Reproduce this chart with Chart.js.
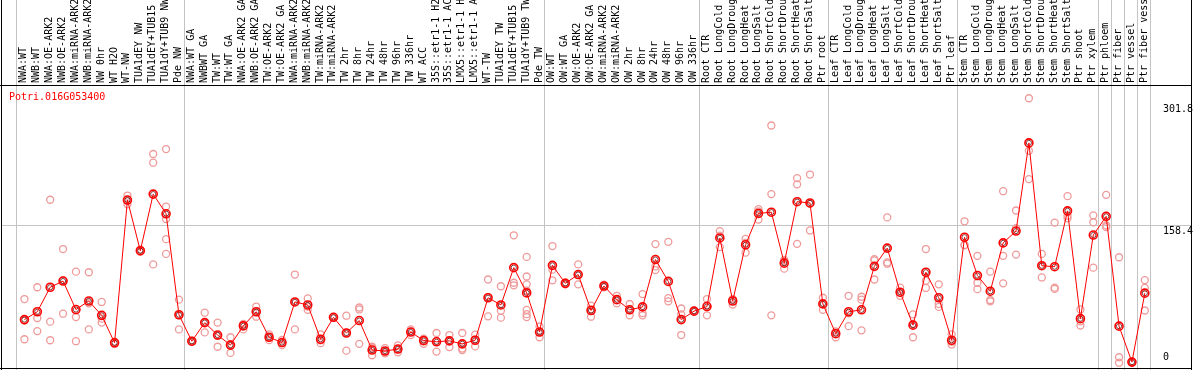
<!DOCTYPE html>
<html>
<head>
<meta charset="utf-8">
<script src="https://cdn.jsdelivr.net/npm/chart.js@4/dist/chart.umd.min.js"></script>
<style>
  html, body { margin: 0; padding: 0; background: #fff; }
  #wrap { width: 1194px; height: 370px; }
</style>
</head>
<body>
<div id="wrap"><canvas id="chart" width="1194" height="370"></canvas></div>
<script>
// Sample names (cut to 14 characters, as in the picture)
const categories = [
  'NWA:WT', 'NWB:WT', 'NWA:OE-ARK2', 'NWB:OE-ARK2', 'NWA:miRNA-ARK2', 'NWB:miRNA-ARK2',
  'NW 0hr', 'WT H2O', 'WT-NW', 'TUA1dEY NW', 'TUA1dEY+TUB15', 'TUA1dY+TUB9 NW', 'Pde NW',
  'NWA:WT GA', 'NWBWT GA', 'TW:WT', 'TW:WT GA', 'NWA:OE-ARK2 GA', 'NWB:OE-ARK2 GA',
  'TW:OE-ARK2', 'TW:OE-ARK2 GA', 'NWA:miRNA-ARK2', 'NWB:miRNA-ARK2', 'TW:miRNA-ARK2',
  'TW:miRNA-ARK2', 'TW 2hr', 'TW 8hr', 'TW 24hr', 'TW 48hr', 'TW 96hr', 'TW 336hr',
  'WT ACC', '35S::etr1-1 H2', '35S::etr1-1 AC', 'LMX5::etr1-1 H', 'LMX5::etr1-1 A',
  'WT-TW', 'TUA1dEY TW', 'TUA1dEY+TUB15', 'TUA1dY+TUB9 TW', 'Pde TW',
  'OW:WT', 'OW:WT GA', 'OW:OE-ARK2', 'OW:OE-ARK2 GA', 'OW:miRNA-ARK2', 'OW:miRNA-ARK2',
  'OW 2hr', 'OW 8hr', 'OW 24hr', 'OW 48hr', 'OW 96hr', 'OW 336hr',
  'Root CTR', 'Root LongCold', 'Root LongDroug', 'Root LongHeat', 'Root LongSalt',
  'Root ShortCold', 'Root ShortDrou', 'Root ShortHeat', 'Root ShortSalt', 'Ptr root',
  'Leaf CTR', 'Leaf LongCold', 'Leaf LongDroug', 'Leaf LongHeat', 'Leaf LongSalt',
  'Leaf ShortCold', 'Leaf ShortDrou', 'Leaf ShortHeat', 'Leaf ShortSalt', 'Ptr leaf',
  'Stem CTR', 'Stem LongCold', 'Stem LongDroug', 'Stem LongHeat', 'Stem LongSalt',
  'Stem ShortCold', 'Stem ShortDrou', 'Stem ShortHeat', 'Stem ShortSalt', 'Ptr shoot',
  'Ptr xylem', 'Ptr phloem', 'Ptr fiber', 'Ptr vessel', 'Ptr fiber vess'
];

// Mean expression per sample
const meanValues = [
  50.8, 59.7, 87.5, 94.5, 62.2, 71.9, 55.6, 24.5, 186.4, 128.9, 193.1, 170.8, 56.3,
  26.3, 47.4, 33.3, 21.9, 43.7, 59.7, 30.8, 24.8, 70.8, 67.4, 28.5, 53.4, 35.6, 49.7,
  16.3, 15.2, 17.4, 36.7, 27.0, 25.6, 26.7, 23.3, 27.4, 75.6, 67.4, 109.7, 81.1, 36.7,
  112.3, 91.9, 101.9, 61.1, 88.9, 73.4, 61.9, 65.2, 118.9, 94.1, 50.8, 60.4,
  65.6, 143.4, 71.9, 135.6, 171.2, 172.6, 114.8, 184.5, 183.1, 68.6,
  34.8, 59.7, 61.9, 111.2, 131.9, 81.9, 44.5, 104.5, 75.6, 27.4,
  144.2, 100.8, 83.0, 137.8, 151.2, 251.2, 111.9, 110.8, 174.1, 51.9,
  146.7, 167.9, 43.4, 2.6, 80.8
];

// Individual replicates per sample
const replicates = [
  [74.1, 49.8, 28.5], [87.5, 52.6, 37.8], [186.7, 48.5, 27.4], [130.8, 95.2, 57.5],
  [105.2, 53.7, 26.3], [104.5, 69.3, 39.7], [70.8, 51.9, 47.4], [25.8, 24.5, 23.2],
  [191.5, 186.2, 181.5], [130.2, 128.9, 127.6], [238.6, 228.7, 113.4],
  [244.2, 179.0, 164.9, 142.0, 125.3], [73.4, 55.8, 39.7],
  [27.0, 26.3, 25.6], [58.6, 47.3, 36.3], [47.4, 32.5, 20.0], [30.8, 22.0, 13.0],
  [45.9, 45.5, 39.7], [65.6, 59.4, 54.1], [34.1, 30.8, 27.5], [27.8, 24.7, 21.9],
  [101.9, 70.8, 39.7], [74.8, 65.5, 61.9], [34.1, 27.3, 24.1], [54.0, 53.4, 52.8],
  [55.2, 36.0, 15.6], [64.5, 62.3, 23.3], [20.0, 18.5, 10.4], [18.5, 14.5, 12.6],
  [21.5, 17.0, 13.7], [39.7, 37.1, 33.3], [29.2, 28.5, 23.3], [35.6, 26.7, 14.5],
  [33.3, 27.2, 19.6], [35.6, 18.0, 16.3], [33.7, 28.1, 20.4], [96.3, 76.0, 54.5],
  [88.6, 60.8, 53.0], [146.4, 92.6, 89.7],
  [121.9, 99.7, 90.8, 83.7, 61.9, 57.0, 53.7], [43.0, 36.3, 30.8],
  [134.2, 107.4, 95.3], [93.0, 91.9, 90.8], [113.4, 101.5, 90.8], [66.7, 62.5, 54.1],
  [90.4, 89.0, 87.3], [77.8, 73.1, 69.3], [68.5, 61.6, 55.6], [79.7, 58.2, 55.6],
  [136.4, 111.2, 107.0], [139.0, 75.2, 71.5], [63.4, 56.7, 33.3], [61.0, 60.4, 59.8],
  [74.1, 67.1, 55.6], [151.2, 146.0, 133.0], [74.1, 73.8, 67.8], [142.3, 137.8, 126.7],
  [176.0, 173.4, 164.2], [270.9, 193.1, 55.6], [118.6, 117.2, 108.6],
  [211.2, 204.2, 136.7], [215.3, 182.1, 151.9], [75.6, 68.3, 61.9],
  [37.3, 36.3, 30.8], [77.8, 57.9, 43.4], [76.7, 73.4, 38.6], [119.3, 118.0, 96.3],
  [166.7, 115.6, 114.2], [87.0, 80.9, 77.8], [56.7, 46.0, 30.8], [130.8, 94.8, 86.7],
  [90.8, 68.6, 65.2], [34.1, 25.5, 22.6],
  [162.3, 135.5, 134.9], [123.1, 92.6, 85.3], [105.2, 73.0, 71.5], [196.4, 123.1, 91.9],
  [174.5, 154.5, 124.5], [301.8, 242.3, 210.1], [125.3, 111.8, 98.6], [160.8, 87.0, 85.6],
  [190.8, 168.6, 165.6], [62.3, 48.9, 44.1],
  [169.0, 161.2, 109.7], [192.3, 157.5, 155.6], [121.5, 8.1, 1.9], [3.0, 2.5, 2.3],
  [95.6, 86.7, 61.1]
];

// Right-hand value labels, and the value that gets a grid line
const yTickValues = [301.8, 158.4, 0];
const yGridValues = [158.4];

// Index of the first sample of each group (separators drawn before them)
const groupStarts = [0, 13, 41, 53, 63, 73, 84, 85, 86, 87, 88];

const geneName = 'Potri.016G053400';

const FONT = '10px "DejaVu Sans Mono", "Liberation Mono", monospace';

const meanPoints = meanValues.map((v, i) => ({ x: i, y: v }));
const replicatePoints = [];
replicates.forEach((reps, i) => reps.forEach((v) => replicatePoints.push({ x: i, y: v })));

// Grey separators, grid line and black frame behind the data
const backdropPlugin = {
  id: 'backdrop',
  beforeDatasetsDraw(chart) {
    const { ctx, chartArea, scales } = chart;
    const W = chart.width, H = chart.height;
    ctx.save();
    ctx.fillStyle = '#fff';
    ctx.fillRect(0, 0, W, H);

    ctx.strokeStyle = '#c4c4c4';
    ctx.lineWidth = 1;
    groupStarts.forEach((k) => {
      const x = Math.round(scales.x.getPixelForValue(k) - 8) + 0.5;
      ctx.beginPath();
      ctx.moveTo(x, 0);
      ctx.lineTo(x, H);
      ctx.stroke();
    });
    yGridValues.forEach((v) => {
      const y = Math.round(scales.y.getPixelForValue(v)) + 0.5;
      ctx.beginPath();
      ctx.moveTo(1, y);
      ctx.lineTo(1192, y);
      ctx.stroke();
    });

    ctx.strokeStyle = '#000';
    ctx.beginPath();
    ctx.moveTo(1.5, 0); ctx.lineTo(1.5, H);
    ctx.moveTo(1191.5, 0); ctx.lineTo(1191.5, H);
    ctx.moveTo(0, chartArea.top - 0.5); ctx.lineTo(1192, chartArea.top - 0.5);
    ctx.moveTo(0, H - 1.5); ctx.lineTo(1192, H - 1.5);
    ctx.stroke();

    // sample labels, rotated, above the plot
    ctx.fillStyle = '#000';
    ctx.font = FONT;
    ctx.textAlign = 'left';
    ctx.textBaseline = 'alphabetic';
    categories.forEach((name, i) => {
      const x = scales.x.getPixelForValue(i) + 2;
      ctx.save();
      ctx.translate(x, chartArea.top - 3);
      ctx.rotate(-Math.PI / 2);
      ctx.fillText(name, 0, 0);
      ctx.restore();
    });

    // value labels on the right
    ctx.textBaseline = 'top';
    yTickValues.forEach((v) => {
      let y = scales.y.getPixelForValue(v) + 2;
      y = Math.max(y, chartArea.top + 18);
      y = Math.min(y, chartArea.bottom - 12);
      ctx.fillText(String(v), 1163, y);
    });

    // gene name
    ctx.fillStyle = '#ff0000';
    ctx.fillText(geneName, 9, chartArea.top + 6);
    ctx.restore();
  }
};

const ctx = document.getElementById('chart');
new Chart(ctx, {
  type: 'line',
  data: {
    datasets: [
      {
        label: 'mean',
        data: meanPoints,
        borderColor: '#ff0000',
        borderWidth: 1,
        pointStyle: 'circle',
        pointRadius: 4,
        pointBorderWidth: 1.6,
        pointBorderColor: '#ff0000',
        pointBackgroundColor: 'rgba(0,0,0,0)',
        tension: 0,
        clip: false,
      },
      {
        label: 'mean core',
        data: meanPoints,
        showLine: false,
        pointRadius: 2.6,
        pointBorderWidth: 1,
        pointBorderColor: 'rgba(90,0,0,0.75)',
        pointBackgroundColor: 'rgba(0,0,0,0)',
        clip: false,
      },
      {
        label: 'replicates',
        data: replicatePoints,
        showLine: false,
        pointStyle: 'circle',
        pointRadius: 3.5,
        pointBorderWidth: 1.3,
        pointBorderColor: '#ef9a9a',
        pointBackgroundColor: 'rgba(0,0,0,0)',
        clip: false,
      },
    ],
  },
  options: {
    responsive: false,
    animation: false,
    devicePixelRatio: 1,
    layout: { padding: { top: 86, left: 0, right: 0, bottom: 0 } },
    plugins: {
      legend: { display: false },
      tooltip: { enabled: false },
    },
    scales: {
      x: { type: 'linear', display: false, min: -19 / 13, max: (1194 - 19) / 13 },
      y: { type: 'linear', display: false, min: 0, max: 315.7 },
    },
  },
  plugins: [backdropPlugin],
});
</script>
</body>
</html>
